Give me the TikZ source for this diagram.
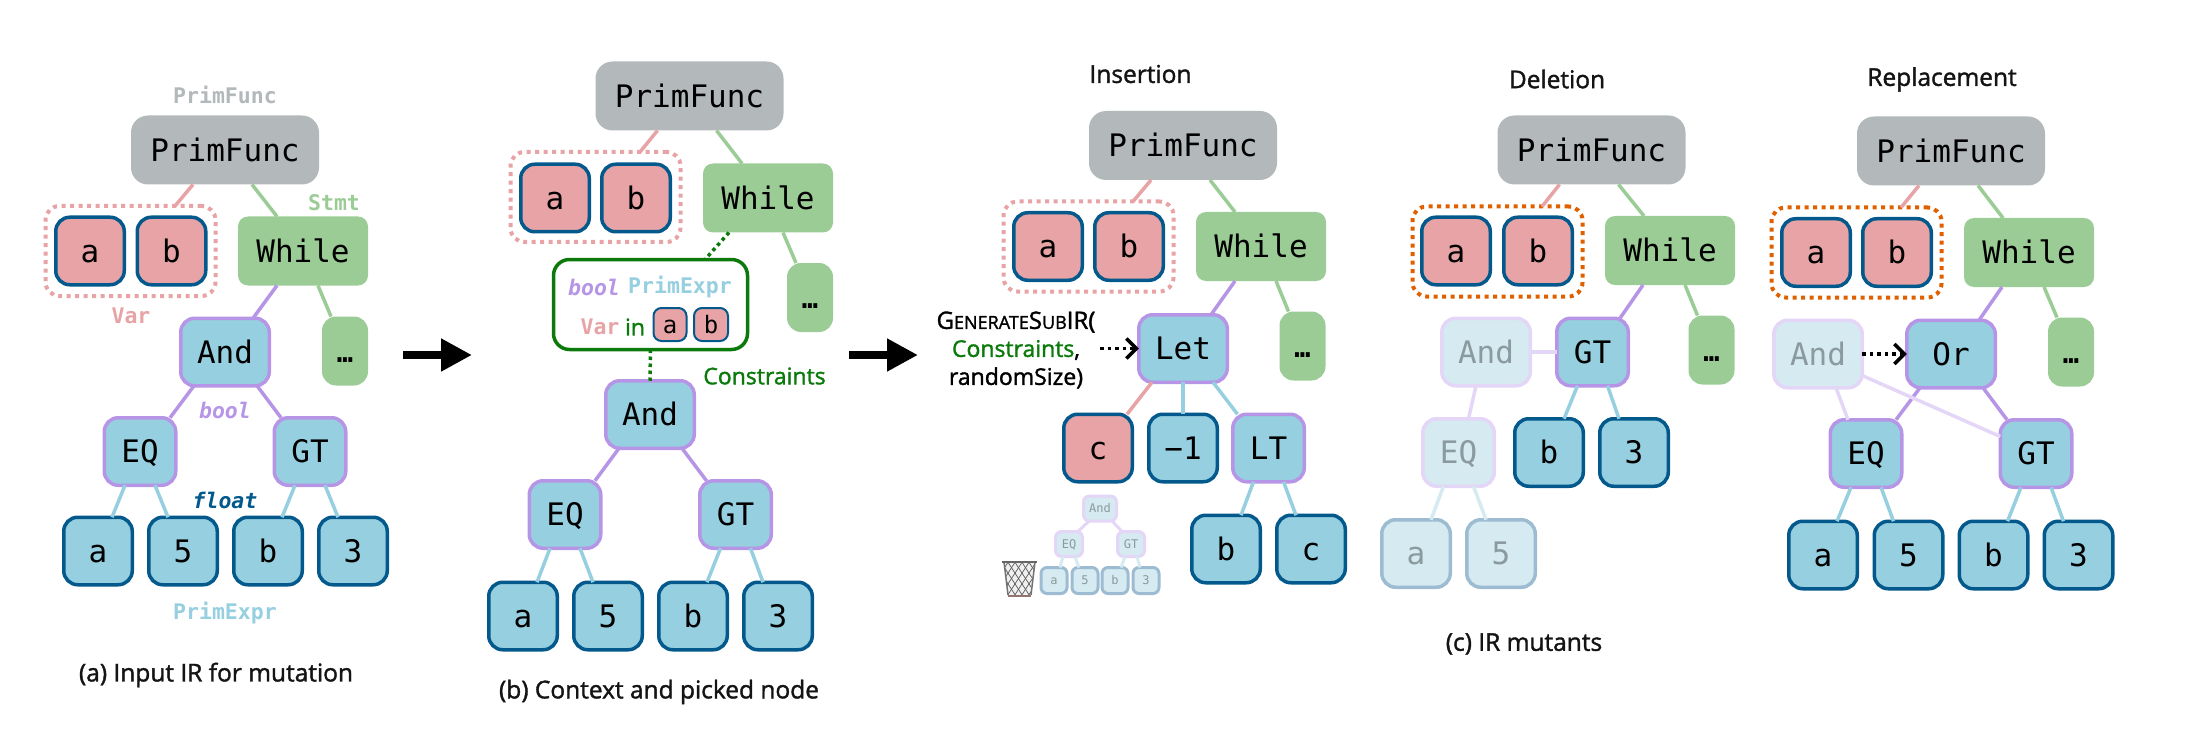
\documentclass[tikz,border=0pt]{standalone}
\usepackage{fontspec}
\usetikzlibrary{arrows.meta}
\setmonofont{DejaVu Sans Mono}
\newfontfamily\capf[FakeBold=1.5]{Open Sans}
\newcommand\myfs[1]{\fontsize{#1}{#1}\selectfont}
\definecolor{cgray}{HTML}{B3B8BB}
\definecolor{cred}{HTML}{E7A3A5}
\definecolor{cblue}{HTML}{96CFE0}
\definecolor{cgreen}{HTML}{9BCC96}
\definecolor{cnavy}{HTML}{03598C}
\definecolor{cpurple}{HTML}{B795E6}
\definecolor{corange}{HTML}{E06000}
\definecolor{cdgreen}{HTML}{0B7A0B}
\definecolor{ffill}{HTML}{D5EAF1}
\definecolor{fpurple}{HTML}{E4D6F6}
\definecolor{fnavy}{HTML}{9DBCD2}
\definecolor{ftext}{HTML}{8A9A9F}
\tikzset{
  bx/.style={inner sep=0pt,outer sep=0pt,font=\ttfamily\myfs{31},text height=22.6pt,text depth=0pt,text=black},
  nPF/.style={bx,fill=cgray,rounded corners=17pt,minimum width=188pt,minimum height=69pt},
  nVar/.style={bx,fill=cred,draw=cnavy,line width=3.5pt,rounded corners=14pt,minimum width=68.5pt,minimum height=67.5pt},
  nLeaf/.style={nVar,fill=cblue},
  nWh/.style={bx,fill=cgreen,rounded corners=10pt,minimum width=130pt,minimum height=69pt},
  nDot/.style={bx,fill=cgreen,rounded corners=14pt,minimum width=46pt,minimum height=69pt,font=\ttfamily\bfseries\myfs{27}},
  nAnd/.style={bx,fill=cblue,draw=cpurple,line width=3.5pt,rounded corners=14pt,minimum width=88.5pt,minimum height=67.5pt},
  nOp/.style={nAnd,minimum width=71.5pt},
  fAnd/.style={nAnd,fill=ffill,draw=fpurple,text=ftext},
  fOp/.style={nOp,fill=ffill,draw=fpurple,text=ftext},
  fLeaf/.style={nLeaf,fill=ffill,draw=fnavy,text=ftext},
  miniOp/.style={fOp,font=\ttfamily\myfs{12},text height=8.7pt,line width=3pt,rounded corners=6pt,minimum width=27pt,minimum height=25pt},
  miniAnd/.style={miniOp,minimum width=33pt},
  miniLeaf/.style={fLeaf,font=\ttfamily\myfs{12},text height=8.7pt,line width=3pt,rounded corners=6pt,minimum width=26pt,minimum height=26pt},
  dotbox/.style={inner sep=0pt,outer sep=0pt,draw=cred,line width=4pt,dash pattern=on 4pt off 4.5pt,rounded corners=14pt,minimum width=170pt,minimum height=90pt},
  dotboxO/.style={dotbox,draw=corange},
  lnk/.style={line width=3.5pt},
  tlabel/.style={inner sep=0pt,font=\ttfamily\bfseries\myfs{21.5}},
  tital/.style={inner sep=0pt,font=\ttfamily\bfseries\itshape\myfs{21.5}},
  capt/.style={inner sep=0pt,font=\capf\myfs{24.5},text=black!92},
  dotarrow/.style={line width=3.5pt,black,dash pattern=on 3.5pt off 4pt,-{Straight Barb[length=10pt,width=20pt,line width=3.5pt]}},
  bigarrow/.style={line width=8pt,black,-{Triangle[length=31pt,width=31pt]}},
  cdot/.style={line width=3.5pt,cdgreen,dash pattern=on 3.5pt off 3.5pt}
}
% connector: colour, from node, x offset on its south side, to node, x offset on its north side
\newcommand\cn[5]{\draw[lnk,#1] ([xshift=#3pt]#2.south) -- ([xshift=#5pt]#4.north);}
\newcommand\topedges[1]{%
  \cn{cred}{#1pf}{-32}{#1dd}{44.5}
  \cn{cgreen}{#1pf}{27}{#1wh}{-26}
  \cn{cgreen}{#1wh}{15}{#1dt}{-14}}
\newcommand\subtree[1]{%
  \cn{cpurple}{#1and}{-31}{#1eq}{30}
  \cn{cpurple}{#1and}{32}{#1gt}{-29}
  \cn{cblue}{#1eq}{-15}{#1la}{14}
  \cn{cblue}{#1eq}{15}{#1l5}{-15}
  \cn{cblue}{#1gt}{-15}{#1lb}{14}
  \cn{cblue}{#1gt}{15}{#1l3}{-15}}
\begin{document}
\begin{tikzpicture}[x=1pt,y=-1pt]
\useasboundingbox (0,0) rectangle (2198,746);
% ---------- panel a
\node[nPF] (apf) at (225,150) {PrimFunc};
\node[dotbox] (add) at (130.5,251) {};
\node[nVar] (ava) at (90,251) {a};
\node[nVar] (avb) at (171.5,251) {b};
\node[nWh] (awh) at (303,251) {While};
\node[nDot] (adt) at (345,351) {…};
\node[nAnd] (aand) at (225,352) {And};
\node[nOp] (aeq) at (140,451.5) {EQ};
\node[nOp] (agt) at (310,451.5) {GT};
\node[nLeaf] (ala) at (98,551) {a};
\node[nLeaf] (al5) at (183,551) {5};
\node[nLeaf] (alb) at (268,551) {b};
\node[nLeaf] (al3) at (353,551) {3};
\topedges{a}
\cn{cpurple}{awh}{-26}{aand}{28}
\subtree{a}
\node[tlabel,text=cgray] (at1) at (225,95) {PrimFunc};
\node[tlabel,text=cgreen] (at2) at (334,203) {Stmt};
\node[tlabel,text=cred] (at3) at (131,316) {Var};
\node[tital,text=cpurple] (at4) at (225,410) {bool};
\node[tital,text=cnavy] (at5) at (225,500) {float};
\node[tlabel,text=cblue] (at6) at (225,613) {PrimExpr};
\node[capt] (acap) at (216,675) {(a) Input IR for mutation};
% arrows
\coordinate (ar1s) at (403,355);
\coordinate (ar1e) at (472,355);
\draw[bigarrow] (ar1s) -- (ar1e);
\coordinate (ar2s) at (849,355);
\coordinate (ar2e) at (918,355);
\draw[bigarrow] (ar2s) -- (ar2e);
% ---------- panel b
\node[nPF] (bpf) at (689.5,96) {PrimFunc};
\node[dotbox] (bdd) at (595.5,197) {};
\node[nVar] (bva) at (555,198) {a};
\node[nVar] (bvb) at (636,198) {b};
\node[nWh] (bwh) at (768,198) {While};
\node[nDot] (bdt) at (810,297.5) {…};
\node[draw=cdgreen,line width=3.5pt,fill=white,rounded corners=16pt,inner sep=0pt,outer sep=0pt,minimum width=194pt,minimum height=90pt] (bcb) at (650.5,304.5) {};
\node[tital,text=cpurple] (bt1) at (594,287) {bool};
\node[tlabel,text=cblue] (bt2) at (680,287) {PrimExpr};
\node[tlabel,text=cred] (bt3) at (600,327) {Var};
\node[inner sep=0pt,font=\capf\myfs{23},text=cdgreen] (bt4) at (635,327) {in};
\node[nVar,font=\ttfamily\myfs{24},text height=17.5pt,line width=2pt,rounded corners=8pt,minimum width=33pt,minimum height=33pt] (bsa) at (670,324.5) {a};
\node[nVar,font=\ttfamily\myfs{24},text height=17.5pt,line width=2pt,rounded corners=8pt,minimum width=34pt,minimum height=33pt] (bsb) at (711,324.5) {b};
\node[nAnd] (band) at (650,414.5) {And};
\node[nOp] (beq) at (565,514.5) {EQ};
\node[nOp] (bgt) at (735.5,514.5) {GT};
\node[nLeaf] (bla) at (523,616) {a};
\node[nLeaf] (bl5) at (608,616) {5};
\node[nLeaf] (blb) at (693,616) {b};
\node[nLeaf] (bl3) at (778,616) {3};
\topedges{b}
\subtree{b}
\draw[cdot] ([xshift=-39pt]bwh.south) -- ([xshift=54.5pt]bcb.north);
\draw[cdot] (bcb.south) -- (band.north);
\node[inner sep=0pt,font=\capf\myfs{23},text=cdgreen] (bt5) at (764.5,376) {Constraints};
\node[capt] (bcap) at (659,692) {(b) Context and picked node};
% ---------- panel c insertion
\node[capt] (ilab) at (1140.5,74) {Insertion};
\node[nPF] (ipf) at (1183,145.5) {PrimFunc};
\node[dotbox] (idd) at (1088.5,246.5) {};
\node[nVar] (iva) at (1048,246.5) {a};
\node[nVar] (ivb) at (1129,246.5) {b};
\node[nWh] (iwh) at (1261,246.5) {While};
\node[nDot] (idt) at (1302.5,346) {…};
\node[nAnd] (ilet) at (1183,348.5) {Let};
\node[nVar] (ic) at (1098,448) {c};
\node[nLeaf] (im) at (1183,448) {−1};
\node[nOp] (ilt) at (1268.5,448) {LT};
\node[nLeaf] (ib) at (1226,549) {b};
\node[nLeaf] (ic2) at (1311,549) {c};
\topedges{i}
\cn{cpurple}{iwh}{-26}{ilet}{28}
\cn{cred}{ilet}{-31}{ic}{29}
\cn{cblue}{ilet}{0}{im}{0}
\cn{cblue}{ilet}{30}{ilt}{-31}
\cn{cblue}{ilt}{-15}{ib}{15}
\cn{cblue}{ilt}{15}{ic2}{-15}
\node[inner sep=0pt,font=\capf\myfs{23},align=center] (igen) at (1016,350) {%
  {\myfs{24}G}{\myfs{18}ENERATE}{\myfs{24}S}{\myfs{18}UB}{\myfs{24}IR(}\\[5pt]
  \textcolor{cdgreen}{Constraints},\\[5pt]
  randomSize)};
\coordinate (igs) at (1100,348.5);
\draw[dotarrow] (igs) -- (ilet.west);
% mini tree
\node[miniAnd] (mand) at (1100,508.5) {And};
\node[miniOp] (meq) at (1069,544) {EQ};
\node[miniOp] (mgt) at (1131,544) {GT};
\node[miniLeaf] (mla) at (1054,580.5) {a};
\node[miniLeaf] (ml5) at (1085,580.5) {5};
\node[miniLeaf] (mlb) at (1115,580.5) {b};
\node[miniLeaf] (ml3) at (1146,580.5) {3};
\begin{scope}[line width=3pt]
\draw[fpurple] ([xshift=-11pt]mand.south) -- ([xshift=9pt]meq.north);
\draw[fpurple] ([xshift=12pt]mand.south) -- ([xshift=-9pt]mgt.north);
\draw[ffill] ([xshift=-6pt]meq.south) -- ([xshift=6pt]mla.north);
\draw[ffill] ([xshift=6pt]meq.south) -- ([xshift=-6pt]ml5.north);
\draw[ffill] ([xshift=-6pt]mgt.south) -- ([xshift=6pt]mlb.north);
\draw[ffill] ([xshift=6pt]mgt.south) -- ([xshift=-6pt]ml3.north);
\end{scope}
% waste basket
\begin{scope}
\clip (1004,562) -- (1035,562) -- (1031,595) -- (1008,595) -- cycle;
\fill[gray!12] (1000,560) rectangle (1040,598);
\foreach \k in {-36,-29,...,36} {
  \draw[line width=.7pt,black!65] (1019.5+\k-12,560) -- (1019.5+\k+12,597);
  \draw[line width=.7pt,black!65] (1019.5+\k+12,560) -- (1019.5+\k-12,597);
}
\end{scope}
\draw[line width=1.5pt,black!55] (1004,562) -- (1008,595);
\draw[line width=1.5pt,black!55] (1035,562) -- (1031,595);
\draw[line width=2pt,black!60] (1002,561.5) -- (1037,561.5);
\draw[line width=2pt,red!25!black!55] (1008,595.5) -- (1031,595.5);
% ---------- panel c deletion
\node[capt] (dlab) at (1557,79) {Deletion};
\node[nPF] (dpf) at (1591.5,150) {PrimFunc};
\node[dotboxO] (ddd) at (1497.5,251.5) {};
\node[nVar] (dva) at (1456,251) {a};
\node[nVar] (dvb) at (1538,251) {b};
\node[nWh] (dwh) at (1670,250.5) {While};
\node[nDot] (ddt) at (1711.5,350) {…};
\node[fAnd] (dand) at (1486,352) {And};
\node[nOp] (dgt) at (1592.5,352) {GT};
\node[fOp] (deq) at (1458.5,452.5) {EQ};
\node[nLeaf] (dlb) at (1549,452.5) {b};
\node[nLeaf] (dl3) at (1634,452.5) {3};
\node[fLeaf] (dla) at (1416,553.5) {a};
\node[fLeaf] (dl5) at (1501,553.5) {5};
\topedges{d}
\cn{cpurple}{dwh}{-27}{dgt}{27.5}
\draw[lnk,fpurple] (dand.east) -- (dgt.west);
\cn{fpurple}{dand}{-10}{deq}{10}
\cn{ffill}{deq}{-15}{dla}{15}
\cn{ffill}{deq}{15}{dl5}{-15}
\cn{cblue}{dgt}{-15}{dlb}{15}
\cn{cblue}{dgt}{15}{dl3}{-15}
\node[capt] (dcap) at (1524,644) {(c) IR mutants};
% ---------- panel c replacement
\node[capt] (rlab) at (1942,79.5) {Replacement};
\node[nPF] (rpf) at (1951,151) {PrimFunc};
\node[dotboxO] (rdd) at (1856.5,252.5) {};
\node[nVar] (rva) at (1816,252.5) {a};
\node[nVar] (rvb) at (1897,252.5) {b};
\node[nWh] (rwh) at (2029,252.5) {While};
\node[nDot] (rdt) at (2071,352) {…};
\node[fAnd] (rold) at (1818,354) {And};
\node[nAnd] (rand) at (1951,354) {Or};
\node[nOp] (req) at (1866,453.5) {EQ};
\node[nOp] (rgt) at (2036,453.5) {GT};
\node[nLeaf] (rla) at (1823,555) {a};
\node[nLeaf] (rl5) at (1908.5,555) {5};
\node[nLeaf] (rlb) at (1993.5,555) {b};
\node[nLeaf] (rl3) at (2078.5,555) {3};
\topedges{r}
\cn{cpurple}{rwh}{-27}{rand}{28}
\subtree{r}
\cn{fpurple}{rold}{18}{req}{-18}
\draw[lnk,fpurple] ([yshift=-21.6pt]rold.east) -- ([yshift=17pt]rgt.west);
\draw[dotarrow] (rold.east) -- (rand.west);
\end{tikzpicture}
\end{document}
